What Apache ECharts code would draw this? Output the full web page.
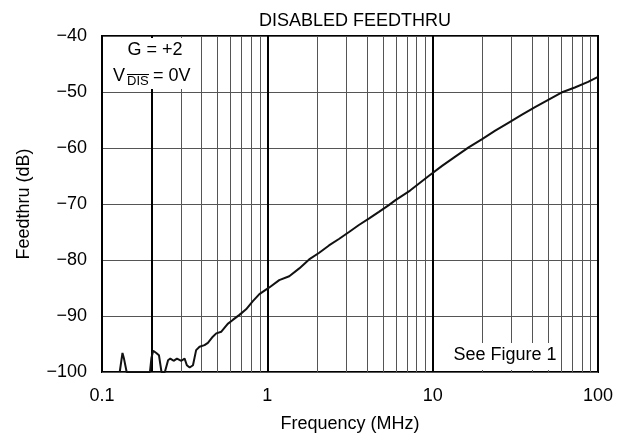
<!DOCTYPE html>
<html>
<head>
<meta charset="utf-8">
<script src="https://cdn.jsdelivr.net/npm/echarts@6/dist/echarts.min.js"></script>
<style>
  html, body { margin: 0; padding: 0; background: #fff; }
  #chart { width: 630px; height: 439px; }
</style>
</head>
<body>
<div id="chart"></div>
<script>
// measured curve, frequency in MHz / feedthru in dB
var freqMHz = [
  0.128, 0.133, 0.136, 0.141, 0.17, 0.195, 0.199, 0.204, 0.213, 0.221,
  0.229, 0.24, 0.251, 0.259, 0.271, 0.284, 0.302, 0.316, 0.326, 0.339,
  0.355, 0.371, 0.389, 0.417, 0.437, 0.468, 0.491, 0.527, 0.576, 0.618,
  0.678, 0.744, 0.815, 0.895, 1.028, 1.18, 1.357, 1.56, 1.79, 2.06,
  2.36, 2.71, 3.12, 3.58, 4.11, 4.73, 5.43, 5.96, 7.3, 9.46,
  11.4, 13.7, 16.5, 19.8, 23.9, 28.7, 34.5, 41.6, 50, 60.1,
  72.4, 87.1, 100
];
var feedthruDb = [
  -100, -96.6, -97.7, -100, -100, -100, -97.5, -96.2, -96.6, -97.0,
  -100, -100, -97.9, -97.6, -98.0, -97.6, -98.0, -97.6, -98.8, -99.2,
  -98.8, -96.1, -95.5, -95.2, -94.8, -93.7, -93.1, -92.8, -91.4, -90.7,
  -89.8, -88.8, -87.4, -86.1, -84.9, -83.6, -82.9, -81.5, -79.9, -78.7,
  -77.4, -76.25, -75.0, -73.75, -72.6, -71.4, -70.2, -69.3, -67.6, -65.0,
  -63.2, -61.55, -59.9, -58.45, -56.9, -55.5, -54.1, -52.7, -51.4, -50.1,
  -49.2, -48.2, -47.3
];

// grid lines inside each decade
var minorFreqs = [
  0.3, 0.4, 0.5, 0.6, 0.7, 0.8, 0.9,
  2, 3, 4, 5, 6, 7, 8, 9,
  20, 30, 40, 50, 60, 70, 80, 90
];
var boldFreqs = [0.2];

var yMin = -100, yMax = -40, yStep = 10;
var xMin = 0.1, xMax = 100;

var font = "'Liberation Sans', Arial, Helvetica, sans-serif";

function minus(v) {
  return String(v).replace('-', '\u2212');
}

var points = freqMHz.map(function (f, i) {
  return [f, feedthruDb[i]];
});

var markData = minorFreqs.map(function (f) {
  return { xAxis: f, lineStyle: { color: '#555', width: 1, type: 'solid' } };
}).concat(boldFreqs.map(function (f) {
  return { xAxis: f, lineStyle: { color: '#000', width: 2, type: 'solid' } };
}));

var chart = echarts.init(document.getElementById('chart'));

var option = {
  animation: false,
  backgroundColor: '#fff',
  title: {
    text: 'DISABLED FEEDTHRU',
    left: 350,
    top: 7,
    textAlign: 'center',
    textStyle: { fontFamily: font, fontSize: 18, fontWeight: 'normal', color: '#000' }
  },
  grid: {
    left: 102,
    right: 32,
    top: 36,
    bottom: 67,
    show: true,
    borderColor: '#000',
    borderWidth: 2,
    backgroundColor: '#fff'
  },
  xAxis: {
    type: 'log',
    logBase: 10,
    min: xMin,
    max: xMax,
    name: 'Frequency (MHz)',
    nameLocation: 'middle',
    nameGap: 43,
    nameTextStyle: { fontFamily: font, fontSize: 18, color: '#000' },
    axisLine: { show: false },
    axisTick: { show: false },
    axisLabel: {
      margin: 15,
      fontFamily: font,
      fontSize: 18,
      color: '#000',
      formatter: function (v) { return String(+v.toPrecision(3)); }
    },
    splitLine: { show: true, lineStyle: { color: '#000', width: 2 } }
  },
  yAxis: {
    type: 'value',
    min: yMin,
    max: yMax,
    interval: yStep,
    name: 'Feedthru (dB)',
    nameLocation: 'middle',
    nameGap: 69,
    nameTextStyle: { fontFamily: font, fontSize: 18, color: '#000' },
    axisLine: { show: false },
    axisTick: { show: false },
    axisLabel: {
      margin: 15,
      fontFamily: font,
      fontSize: 18,
      color: '#000',
      formatter: minus
    },
    splitLine: { show: true, lineStyle: { color: '#555', width: 1 } }
  },
  series: [
    {
      type: 'line',
      data: points,
      showSymbol: false,
      symbol: 'none',
      clip: true,
      lineStyle: { color: '#111', width: 2 },
      z: 5,
      markLine: {
        silent: true,
        symbol: ['none', 'none'],
        label: { show: false },
        animation: false,
        z: 3,
        data: markData
      }
    }
  ],
  graphic: [
    // white box behind gain note
    { type: 'rect', z: 100, shape: { x: 104, y: 38, width: 96, height: 51 }, style: { fill: '#fff' } },
    { type: 'text', z: 101, x: 155, y: 50, style: { text: 'G = +2', font: '18px ' + font, fill: '#000', textAlign: 'center', textVerticalAlign: 'middle' } },
    { type: 'text', z: 101, x: 113, y: 76, style: { text: 'V', font: '18px ' + font, fill: '#000', textAlign: 'left', textVerticalAlign: 'middle' } },
    { type: 'text', z: 101, x: 127, y: 81, style: { text: 'DIS', font: '13px ' + font, fill: '#000', textAlign: 'left', textVerticalAlign: 'middle' } },
    { type: 'line', z: 101, shape: { x1: 127, y1: 74.5, x2: 149, y2: 74.5 }, style: { stroke: '#000', lineWidth: 1 } },
    { type: 'text', z: 101, x: 153, y: 76, style: { text: '= 0V', font: '18px ' + font, fill: '#000', textAlign: 'left', textVerticalAlign: 'middle' } },
    // box behind figure note
    { type: 'rect', z: 100, shape: { x: 450, y: 343, width: 110, height: 27 }, style: { fill: '#fff' } },
    { type: 'text', z: 101, x: 505, y: 355, style: { text: 'See Figure 1', font: '18px ' + font, fill: '#000', textAlign: 'center', textVerticalAlign: 'middle' } }
  ]
};

chart.setOption(option);
</script>
</body>
</html>
